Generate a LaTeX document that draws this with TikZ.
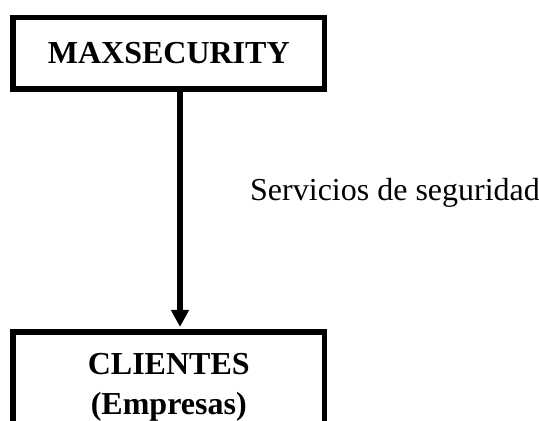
\documentclass[tikz,border=0pt]{standalone}
\usepackage{fontspec}
\setmainfont{Liberation Serif}
\usetikzlibrary{arrows.meta}
\begin{document}
\begin{tikzpicture}[x=1pt,y=1pt,
  boxstyle/.style={draw=black, line width=5.5pt, minimum width=311.5pt,
    font=\fontsize{32}{40}\selectfont\bfseries, align=center},
  flow/.style={line width=6pt, -{Triangle[width=17pt,length=17pt]}, shorten >=2.5pt},
  lbl/.style={font=\fontsize{32}{34}\selectfont, inner sep=0pt, anchor=base west}]
\useasboundingbox (0,0) rectangle (539,421);
\clip (0,0) rectangle (539,421);
\node[boxstyle, minimum height=71.5pt] (top) at (168.75,367.75) {MAXSECURITY};
\node[boxstyle, anchor=north, text width=290pt, inner xsep=10.75pt, inner ysep=21pt, text depth=80pt] (bot) at (168.75,91.5) {CLIENTES\\(Empresas)};
\draw[flow] ([xshift=11.25pt]top.south) -- ([xshift=11.25pt]bot.north);
\node[lbl] (svc) at (250,220) {Servicios de seguridad};
\end{tikzpicture}
\end{document}
